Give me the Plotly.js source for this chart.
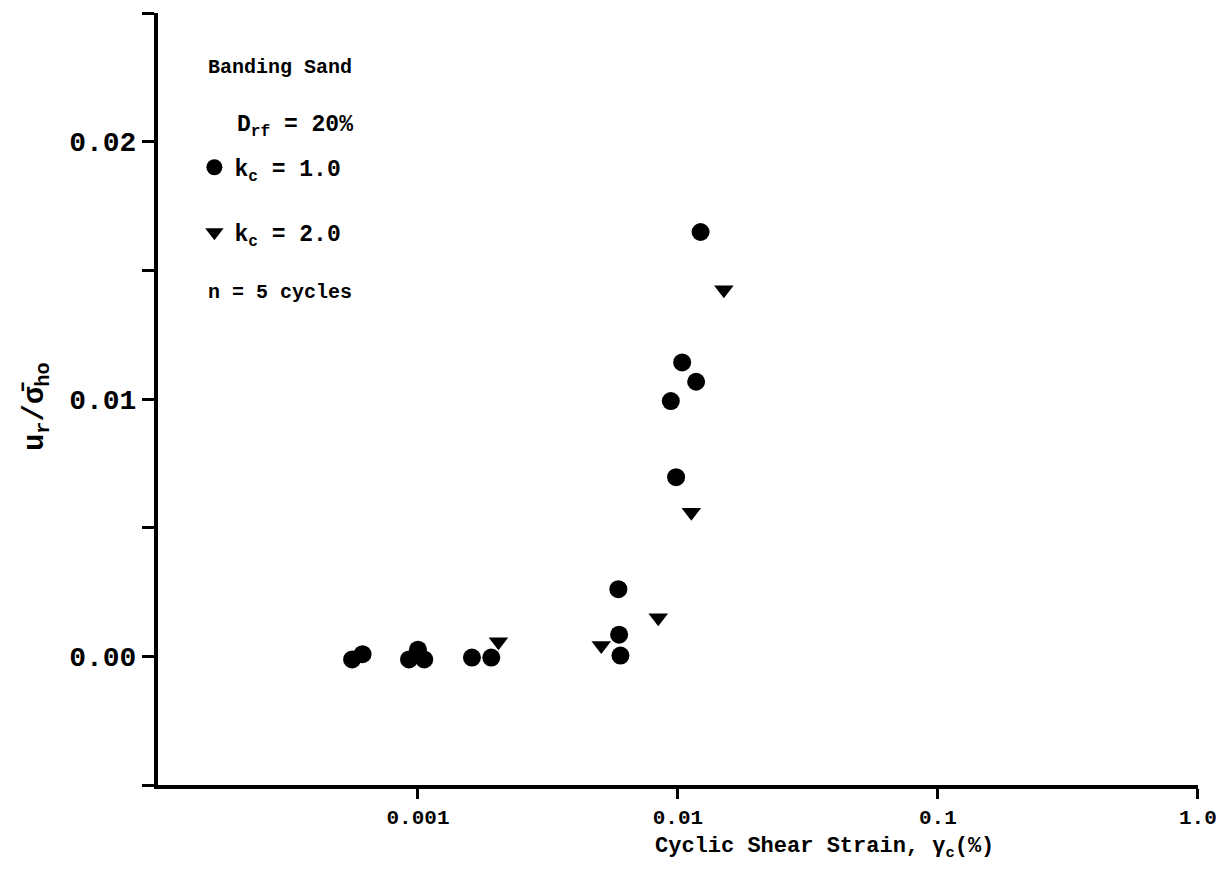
<!DOCTYPE html>
<html>
<head>
<meta charset="utf-8">
<script src="https://cdn.plot.ly/plotly-3.0.1.min.js"></script>
<style>html,body{margin:0;padding:0;background:#fff;}#chart{width:1219px;height:886px;}</style>
</head>
<body>
<div id="chart"></div>
<script>
// k_c = 1.0 (circles)
var kc1Strain = [0.000558, 0.000612, 0.000924, 0.00100, 0.001057, 0.001613, 0.001914, 0.00601, 0.00594, 0.00590, 0.00984, 0.00939, 0.01038, 0.01175, 0.01222];
var kc1Ratio  = [-0.00012, 0.000085, -0.00012, 0.00026, -0.00012, -0.00005, -0.00005, 0.00003, 0.00084, 0.00261, 0.00696, 0.00992, 0.01142, 0.01067, 0.01649];
// k_c = 2.0 (triangles)
var kc2Strain = [0.00204, 0.00507, 0.0084, 0.01126, 0.01502];
var kc2Ratio  = [0.00057, 0.00042, 0.0015, 0.0056, 0.01425];

var xTickVals = [0.001, 0.01, 0.1, 1];
var xTickText = ["0.001", "0.01", "0.1", "1.0"];
var yTickVals = [-0.005, 0, 0.005, 0.01, 0.015, 0.02, 0.025];
var yTickText = ["", "0.00", "", "0.01", "", "0.02", ""];

var FONT = "Liberation Mono, DejaVu Sans Mono, monospace";
function f(sz){ return {family: FONT, size: sz, color: "#000", weight: "bold"}; }

var traces = [
  {x: kc1Strain, y: kc1Ratio, type: "scatter", mode: "markers", name: "k<sub>c</sub> = 1.0",
   legendgroup: "a", marker: {symbol: "circle", size: 18, color: "#000"}, cliponaxis: false},
  {x: kc2Strain, y: kc2Ratio, type: "scatter", mode: "markers", name: "k<sub>c</sub> = 2.0",
   legendgroup: "b", marker: {symbol: "triangle-down", size: 17, color: "#000"}, cliponaxis: false}
];

var layout = {
  width: 1219, height: 886,
  margin: {l: 158, r: 21, t: 13, b: 101},
  paper_bgcolor: "#fff", plot_bgcolor: "#fff",
  font: {family: FONT, color: "#000", size: 20},
  showlegend: true,
  legend: {x: 0.035, y: 0.828, xanchor: "left", yanchor: "top", bgcolor: "rgba(0,0,0,0)",
           font: f(23), tracegroupgap: 32},
  xaxis: {
    type: "log", range: [-4, 0.0005], tickmode: "array", tickvals: xTickVals, ticktext: xTickText,
    showgrid: false, zeroline: false, showline: true, linewidth: 4, linecolor: "#000",
    ticks: "outside", ticklen: 10, tickwidth: 3, tickcolor: "#000",
    tickfont: f(21), ticklabeloverflow: "allow"
  },
  yaxis: {
    range: [-0.005, 0.025], tickmode: "array", tickvals: yTickVals, ticktext: yTickText,
    showgrid: false, zeroline: false, showline: true, linewidth: 4, linecolor: "#000",
    ticks: "outside", ticklen: 12, tickwidth: 3, tickcolor: "#000",
    tickfont: f(28)
  },
  annotations: [
    {xref: "paper", yref: "paper", x: 0.6405, y: -0.082, xanchor: "center", yanchor: "middle", showarrow: false,
     text: "Cyclic Shear Strain, γ<sub>c</sub>(%)", font: f(22)},
    {xref: "paper", yref: "paper", x: -0.117, y: 0.49, xanchor: "center", yanchor: "middle", showarrow: false,
     textangle: -90, text: "u<sub>r</sub>/σ̄<sub>ho</sub>", font: f(29)},
    {xref: "paper", yref: "paper", x: 0.046, y: 0.93, xanchor: "left", yanchor: "middle", showarrow: false,
     text: "Banding Sand", font: f(20)},
    {xref: "paper", yref: "paper", x: 0.074, y: 0.853, xanchor: "left", yanchor: "middle", showarrow: false,
     text: "D<sub>rf</sub> = 20%", font: f(23)},
    {xref: "paper", yref: "paper", x: 0.046, y: 0.638, xanchor: "left", yanchor: "middle", showarrow: false,
     text: "n = 5 cycles", font: f(20)}
  ]
};

Plotly.newPlot("chart", traces, layout, {displayModeBar: false, staticPlot: true});
</script>
</body>
</html>
